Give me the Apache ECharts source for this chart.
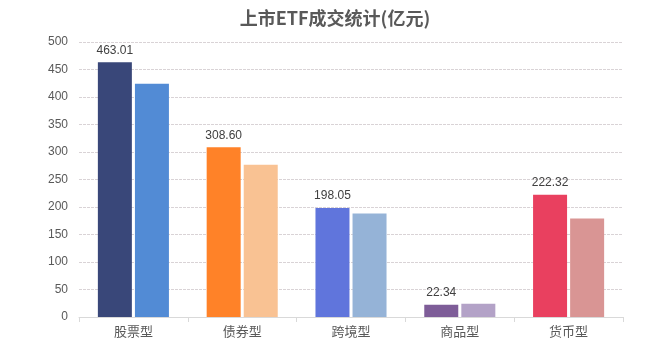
<!DOCTYPE html>
<html>
<head>
<meta charset="utf-8">
<script src="https://cdn.jsdelivr.net/npm/echarts@6/dist/echarts.min.js"></script>
<style>
  html, body { margin: 0; padding: 0; background: #fff; }
  #chart { width: 670px; height: 351px; }
</style>
</head>
<body>
<div id="chart"></div>
<script>
const categories = ['股票型', '债券型', '跨境型', '商品型', '货币型'];
const current = [463.01, 308.60, 198.05, 22.34, 222.32];
const previous = [424, 277, 188, 24, 179];
const currentColors = ['#394779', '#FF8228', '#6075DC', '#7E5D98', '#E9405F'];
const previousColors = ['#528BD5', '#F9C293', '#95B3D7', '#B3A2C7', '#D99594'];

const chart = echarts.init(document.getElementById('chart'));
chart.setOption({
  animation: false,
  title: {
    text: '上市ETF成交统计(亿元)',
    left: 'center',
    top: 4,
    textStyle: {
      fontSize: 18,
      fontWeight: 'bold',
      color: '#595959',
      fontFamily: 'Noto Sans CJK SC'
    }
  },
  grid: { left: 79, right: 47, top: 42, bottom: 34 },
  xAxis: {
    type: 'category',
    data: categories,
    axisLine: { lineStyle: { color: '#d9d9d9' } },
    axisTick: { show: true, length: 5, lineStyle: { color: '#d9d9d9' } },
    axisLabel: { color: '#595959', fontSize: 13, margin: 8, fontFamily: 'Noto Sans CJK SC' }
  },
  yAxis: {
    type: 'value',
    min: 0,
    max: 500,
    interval: 50,
    axisLine: { show: false },
    axisTick: { show: false },
    axisLabel: { color: '#595959', fontSize: 12, margin: 11, fontFamily: 'Liberation Sans' },
    splitLine: { lineStyle: { color: '#d9d3d6', type: [3, 1] } }
  },
  series: [
    {
      type: 'bar',
      barWidth: 34,
      barGap: '9%',
      data: current.map((v, i) => ({ value: v, itemStyle: { color: currentColors[i] } })),
      label: {
        show: true,
        position: 'top',
        distance: 6,
        color: '#404040',
        fontSize: 12,
        fontFamily: 'Liberation Sans',
        formatter: p => p.value.toFixed(2)
      }
    },
    {
      type: 'bar',
      barWidth: 34,
      data: previous.map((v, i) => ({ value: v, itemStyle: { color: previousColors[i] } }))
    }
  ]
});
</script>
</body>
</html>
